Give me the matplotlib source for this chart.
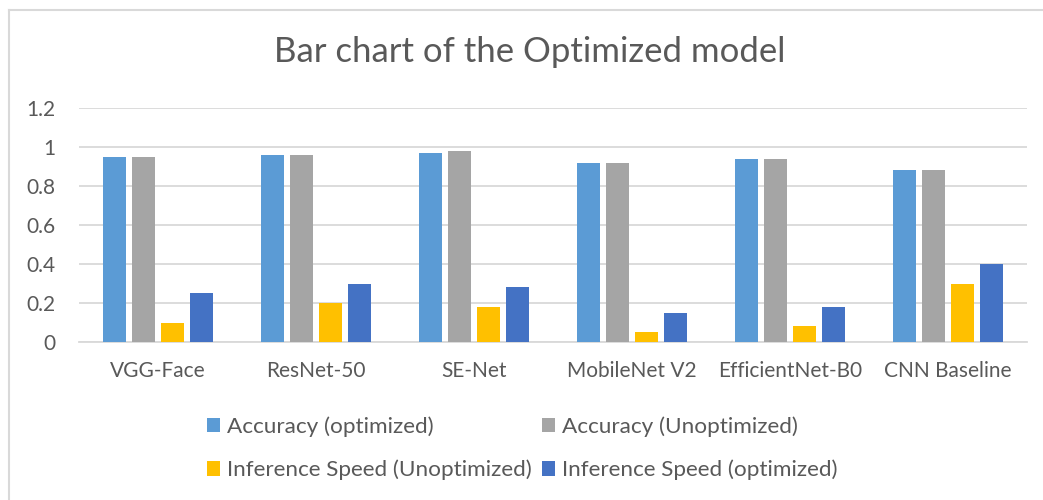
import matplotlib
matplotlib.use("Agg")
import matplotlib.pyplot as plt
from matplotlib.lines import Line2D
import numpy as np

# ── Data ──────────────────────────────────────────────────────────────────────
models = ["VGG-Face", "ResNet-50", "SE-Net", "MobileNet V2", "EfficientNet-B0", "CNN Baseline"]
acc_opt   = [0.95, 0.96, 0.97, 0.92, 0.94, 0.88]
acc_unopt = [0.95, 0.96, 0.98, 0.92, 0.94, 0.88]
inf_unopt = [0.10, 0.20, 0.18, 0.05, 0.08, 0.30]
inf_opt   = [0.25, 0.30, 0.28, 0.15, 0.18, 0.40]

series = [
    ("Accuracy (optimized)", acc_opt, "#5b9bd5"),
    ("Accuracy (Unoptimized)", acc_unopt, "#a5a5a5"),
    ("Inference Speed (Unoptimized)", inf_unopt, "#ffc000"),
    ("Inference Speed (optimized)", inf_opt, "#4472c4"),
]

plt.rcParams["font.family"] = ["Lato", "DejaVu Sans"]
TXT = "#595959"
GRID = "#d9d9d9"

fig = plt.figure(figsize=(10.43, 5.0), dpi=100)
ax = fig.add_axes([79 / 1043, 1 - 342 / 500, 948 / 1043, 234 / 500])

x = np.arange(len(models))
pitch = 0.182
width = 0.145
bars = []
for i, (name, vals, col) in enumerate(series):
    b = ax.bar(x + (i - 1.5) * pitch, vals, width, color=col, label=name, zorder=3)
    bars.append(b)

ax.set_xlim(-0.5, len(models) - 0.5)
ax.set_ylim(0, 1.2)
ax.set_yticks([0, 0.2, 0.4, 0.6, 0.8, 1.0, 1.2])
ax.set_yticklabels(["0", "0.2", "0.4", "0.6", "0.8", "1", "1.2"])
ax.set_xticks(x)
ax.set_xticklabels(models)
ax.tick_params(axis="both", length=0, labelsize=15, colors=TXT)
ax.tick_params(axis="y", pad=17)
ax.tick_params(axis="x", pad=14)
ax.grid(axis="y", color=GRID, linewidth=1.3, zorder=0)
for s in ["top", "right", "left"]:
    ax.spines[s].set_visible(False)
ax.spines["bottom"].set_color(GRID)
ax.spines["bottom"].set_linewidth(1.3)

fig.text(530 / 1043, 1 - 52 / 500, "Bar chart of the Optimized model",
         ha="center", va="center", fontsize=25, color=TXT)

# legend: column-major fill, so reorder to get row layout of the original
order = [0, 2, 1, 3]
leg = fig.legend([bars[i] for i in order], [series[i][0] for i in order],
                 loc="center", bbox_to_anchor=(522 / 1043, 1 - 448.5 / 500),
                 ncol=2, frameon=False, fontsize=16.2, handlelength=0.6,
                 handleheight=0.6, handletextpad=0.3, columnspacing=0.45,
                 labelspacing=1.0, borderpad=0)
for t in leg.get_texts():
    t.set_color(TXT)

# chart frame
fig.add_artist(Line2D([8.5 / 1043, 8.5 / 1043], [0, 1 - 9.5 / 500], color=GRID, lw=1.5))
fig.add_artist(Line2D([8.5 / 1043, 1], [1 - 9.5 / 500, 1 - 9.5 / 500], color=GRID, lw=1.5))

fig.savefig("out.png", dpi=100, facecolor="white")
